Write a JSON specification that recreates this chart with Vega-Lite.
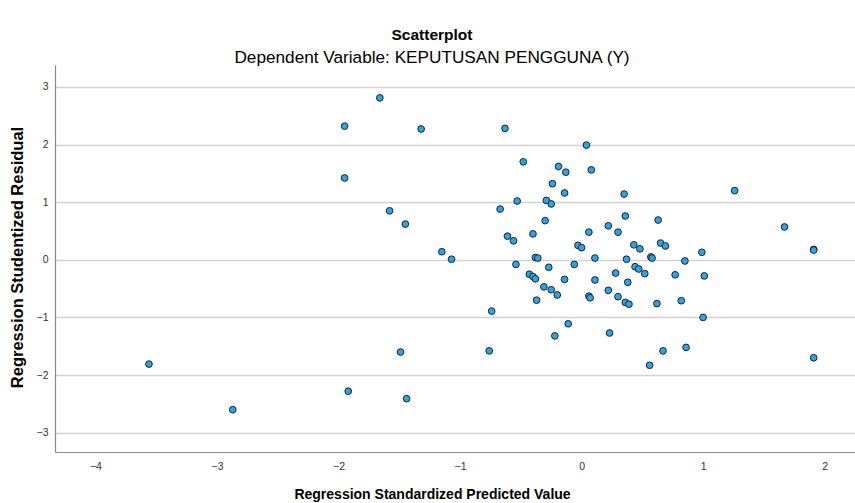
{
  "$schema": "https://vega.github.io/schema/vega-lite/v6.json",
  "autosize": {"type": "none"},
  "padding": {"left": 55, "top": 65, "right": 0, "bottom": 51},
  "width": 800,
  "height": 387,
  "background": "white",
  "title": {
    "text": "Scatterplot",
    "subtitle": "Dependent Variable: KEPUTUSAN PENGGUNA (Y)",
    "anchor": "middle",
    "frame": "group",
    "dx": -23,
    "offset": -1,
    "font": "Liberation Sans",
    "fontSize": 15.5,
    "fontWeight": "bold",
    "color": "#000000",
    "subtitleFont": "Liberation Sans",
    "subtitleFontSize": 17.2,
    "subtitleFontWeight": "normal",
    "subtitleColor": "#000000",
    "subtitlePadding": 5
  },
  "config": {
    "view": {"stroke": null},
    "axis": {
      "labelFont": "Liberation Sans",
      "labelFontSize": 10.5,
      "labelColor": "#333333",
      "titleFont": "Liberation Sans",
      "titleFontSize": 14,
      "titleFontWeight": "bold",
      "titleColor": "#000000",
      "domainColor": "#888888",
      "domainWidth": 1.2,
      "ticks": false
    }
  },
  "data": {
    "values": [
      {"x": -1.66, "y": 2.81}, {"x": -1.95, "y": 2.32}, {"x": -1.32, "y": 2.27}, {"x": -0.63, "y": 2.28},
      {"x": -1.95, "y": 1.42}, {"x": -1.58, "y": 0.85}, {"x": -1.45, "y": 0.62}, {"x": -1.15, "y": 0.14},
      {"x": -1.07, "y": 0.01}, {"x": -3.56, "y": -1.81}, {"x": -2.87, "y": -2.6}, {"x": -1.49, "y": -1.6},
      {"x": -1.92, "y": -2.28}, {"x": -1.44, "y": -2.41}, {"x": -0.76, "y": -1.58}, {"x": -0.74, "y": -0.89},
      {"x": 0.04, "y": 1.99}, {"x": -0.48, "y": 1.7}, {"x": -0.19, "y": 1.62}, {"x": -0.13, "y": 1.52},
      {"x": 0.08, "y": 1.56}, {"x": -0.24, "y": 1.32}, {"x": -0.14, "y": 1.16}, {"x": 0.35, "y": 1.14},
      {"x": -0.53, "y": 1.02}, {"x": -0.29, "y": 1.03}, {"x": -0.25, "y": 0.97}, {"x": -0.67, "y": 0.88},
      {"x": 0.36, "y": 0.76}, {"x": -0.3, "y": 0.68}, {"x": 0.63, "y": 0.69}, {"x": 0.06, "y": 0.48},
      {"x": 0.22, "y": 0.59}, {"x": 0.3, "y": 0.48}, {"x": -0.4, "y": 0.45}, {"x": -0.61, "y": 0.41},
      {"x": -0.56, "y": 0.33}, {"x": -0.03, "y": 0.25}, {"x": 0.0, "y": 0.21}, {"x": 0.43, "y": 0.26},
      {"x": 0.48, "y": 0.19}, {"x": 0.65, "y": 0.29}, {"x": 0.69, "y": 0.24}, {"x": 0.99, "y": 0.13},
      {"x": -0.38, "y": 0.04}, {"x": -0.36, "y": 0.03}, {"x": 0.11, "y": 0.03}, {"x": 0.37, "y": 0.01},
      {"x": 0.57, "y": 0.05}, {"x": 0.58, "y": 0.03}, {"x": 0.85, "y": -0.02}, {"x": -0.54, "y": -0.08},
      {"x": -0.27, "y": -0.13}, {"x": -0.06, "y": -0.08}, {"x": 0.44, "y": -0.12}, {"x": 0.47, "y": -0.16},
      {"x": 0.52, "y": -0.24}, {"x": -0.43, "y": -0.25}, {"x": -0.4, "y": -0.29}, {"x": -0.38, "y": -0.33},
      {"x": -0.14, "y": -0.34}, {"x": 0.11, "y": -0.35}, {"x": 0.28, "y": -0.23}, {"x": 0.38, "y": -0.39},
      {"x": 0.77, "y": -0.26}, {"x": 1.01, "y": -0.28}, {"x": -0.31, "y": -0.47}, {"x": -0.25, "y": -0.52},
      {"x": -0.2, "y": -0.61}, {"x": -0.37, "y": -0.7}, {"x": 0.06, "y": -0.63}, {"x": 0.07, "y": -0.66},
      {"x": 0.22, "y": -0.53}, {"x": 0.3, "y": -0.64}, {"x": 0.36, "y": -0.74}, {"x": 0.39, "y": -0.77},
      {"x": 0.62, "y": -0.76}, {"x": 0.82, "y": -0.71}, {"x": -0.11, "y": -1.11}, {"x": -0.22, "y": -1.32},
      {"x": 0.23, "y": -1.27}, {"x": 1.0, "y": -1.0}, {"x": 0.67, "y": -1.58}, {"x": 0.86, "y": -1.52},
      {"x": 0.56, "y": -1.83}, {"x": 1.26, "y": 1.2}, {"x": 1.67, "y": 0.57}, {"x": 1.91, "y": 0.18},
      {"x": 1.91, "y": 0.17}, {"x": 1.91, "y": -1.7}
    ]
  },
  "mark": {
    "type": "point",
    "filled": true,
    "fill": "#2ba4ee",
    "stroke": "#222222",
    "strokeWidth": 1,
    "size": 45,
    "opacity": 1
  },
  "encoding": {
    "x": {
      "field": "x",
      "type": "quantitative",
      "scale": {"domain": [-4.333, 2.25], "nice": false, "zero": false},
      "axis": {
        "title": "Regression Standardized Predicted Value",
        "values": [-4, -3, -2, -1, 0, 1, 2],
        "grid": false,
        "labelPadding": 9,
        "titleX": 377,
        "titleY": 42,
        "titleBaseline": "middle",
        "titleAlign": "center"
      }
    },
    "y": {
      "field": "y",
      "type": "quantitative",
      "scale": {"domain": [-3.335, 3.38], "nice": false, "zero": false},
      "axis": {
        "title": "Regression Studentized Residual",
        "titleFontSize": 16.5,
        "values": [-3, -2, -1, 0, 1, 2, 3],
        "grid": true,
        "gridColor": "#d2d2d2",
        "gridWidth": 1.5,
        "labelPadding": 7,
        "titleAngle": 270,
        "titleX": -38,
        "titleY": 192,
        "titleBaseline": "middle",
        "titleAlign": "center"
      }
    }
  }
}
